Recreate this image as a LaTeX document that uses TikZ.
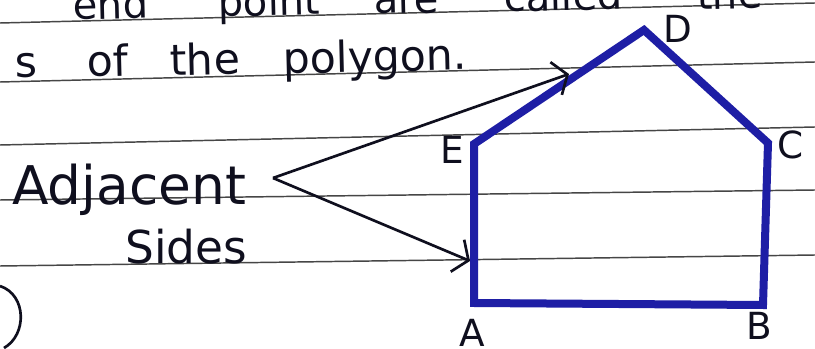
\documentclass[tikz,border=0pt]{standalone}
\usepackage{fontspec}
\setmainfont{DejaVu Sans}
\usetikzlibrary{arrows.meta}
\definecolor{polyblue}{RGB}{30,30,165}
\definecolor{ink}{RGB}{15,15,30}
\definecolor{rulegray}{RGB}{70,70,70}
\begin{document}
\begin{tikzpicture}[x=0.75pt,y=-0.75pt,
  ruling/.style={rulegray, line width=1.1pt},
  side/.style={polyblue, line width=6pt, line join=miter},
  pointer/.style={ink, line width=2pt, -{Straight Barb[length=9pt,width=26pt,line width=2pt]}},
  hand/.style={ink, inner sep=0pt, anchor=base west, rotate=1.4},
  vlabel/.style={ink, font=\fontsize{28}{30}\selectfont, inner sep=0pt}]
\useasboundingbox (0,0) rectangle (815,349);
\fill[white] (0,0) rectangle (815,349);
\begin{scope}
\clip (0,0) rectangle (815,349);
% ruled paper lines
\draw[ruling] (0,23) -- (815,3);
\draw[ruling] (0,82) -- (815,62);
\draw[ruling] (0,145) -- (815,127);
\draw[ruling] (0,200) -- (815,190);
\draw[ruling] (0,266) -- (815,255);
% top line of text (cut off at the top edge, as in the notebook photo)
\node[hand, font=\fontsize{30}{32}\selectfont] (w1) at (73,20) {end};
\node[hand, font=\fontsize{30}{32}\selectfont] (w2) at (218,17) {point};
\node[hand, font=\fontsize{30}{32}\selectfont] (w3) at (374,14) {are};
\node[hand, font=\fontsize{30}{32}\selectfont] (w4) at (504,12) {called};
\node[hand, font=\fontsize{30}{32}\selectfont] (w5) at (697,10) {the};
% second line of text
\node[hand, font=\fontsize{32}{34}\selectfont] (s1) at (15,78) {s};
\node[hand, font=\fontsize{32}{34}\selectfont] (s2) at (87,77) {of};
\node[hand, font=\fontsize{32}{34}\selectfont] (s3) at (170,76) {the};
\node[hand, font=\fontsize{32}{34}\selectfont] (s4) at (283,74) {polygon.};
% label
\node[hand, font=\fontsize{40}{42}\selectfont, rotate=-1.4] (adj) at (12,205) {Adjacent};
\node[hand, font=\fontsize{34}{36}\selectfont, rotate=-1.4] (sid) at (125,264) {Sides};
% partial circled number
\draw[ink, line width=2pt] (0,286) .. controls (27,295) and (27,335) .. (4,348);
% polygon
\coordinate (A) at (474,303);
\coordinate (B) at (763,305);
\coordinate (C) at (768,143);
\coordinate (D) at (644,30);
\coordinate (E) at (474,144);
\draw[side] (A) -- (B) -- (C) -- (D) -- (E) -- cycle;
\node[vlabel] (lA) at (472,333) {A};
\node[vlabel] (lB) at (759,326) {B};
\node[vlabel] (lC) at (791,145) {C};
\node[vlabel] (lD) at (678,29) {D};
\node[vlabel] (lE) at (452,150) {E};
% arrows
\coordinate (hub) at (273,178);
\coordinate (t1) at (569,74);
\coordinate (t2) at (470,261);
\draw[pointer] (hub) -- (t1);
\draw[pointer] (hub) -- (t2);
\end{scope}
\end{tikzpicture}
\end{document}
